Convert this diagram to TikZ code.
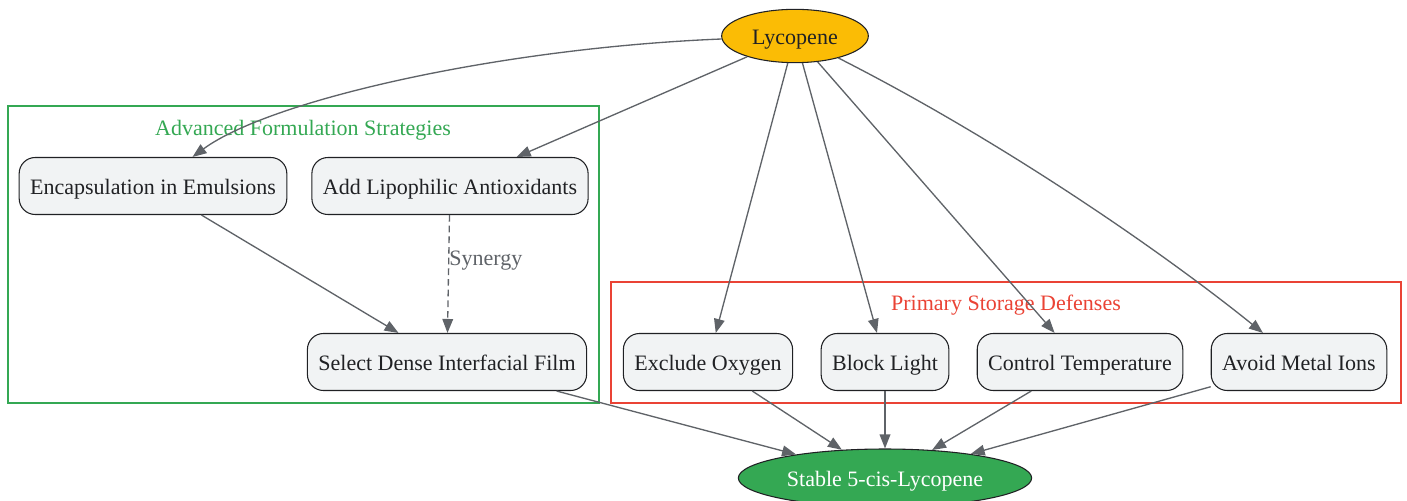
\documentclass[tikz,border=0pt]{standalone}
\usepackage{fontspec}
\setmainfont{Liberation Serif}
\usetikzlibrary{arrows.meta,shapes.geometric}
\definecolor{edgegray}{HTML}{5F6368}
\definecolor{txtdark}{HTML}{202124}
\definecolor{boxfill}{HTML}{F1F3F4}
\definecolor{lycyellow}{HTML}{FBBC05}
\definecolor{okgreen}{HTML}{34A853}
\definecolor{warnred}{HTML}{EA4335}
\begin{document}
\begin{tikzpicture}[x=0.75pt,y=0.75pt,yscale=-1,
  font=\fontsize{16.5}{19}\selectfont,
  every node/.style={text height=16pt,text depth=3.5pt},
  stepbox/.style={draw=txtdark,fill=boxfill,text=txtdark,rounded corners=12pt,
    minimum height=42.75pt,inner xsep=8.25pt,line width=0.8pt},
  endnode/.style={ellipse,draw=txtdark,line width=0.8pt,inner sep=0pt},
  link/.style={draw=edgegray,line width=1pt,-{Triangle[length=10.5pt,width=8pt]}}]
\useasboundingbox (0,0) rectangle (1407,500);

%Clusters
\draw[okgreen,line width=0.8pt] (8,106) rectangle (599,403);
\draw[warnred,line width=0.8pt] (611,282) rectangle (1401,403);
\node[text=okgreen] (advlbl) at (303,127) {Advanced Formulation Strategies};
\node[text=warnred] (primlbl) at (1006,302) {Primary Storage Defenses};

% Ellipse Nodes
\node[endnode,fill=lycyellow,text=txtdark,minimum width=110pt,minimum height=40pt] (lyc) at (795,36) {Lycopene};
\node[endnode,fill=okgreen,text=white,minimum width=220pt,minimum height=43.5pt] (stable) at (885,478) {Stable 5-cis-Lycopene};

% Box Nodes
\node[stepbox] (encap) at (153,186) {Encapsulation in Emulsions};
\node[stepbox] (antiox) at (450,186) {Add Lipophilic Antioxidants};
\node[stepbox] (film) at (447,362) {Select Dense Interfacial Film};
\node[stepbox] (oxygen) at (708,362) {Exclude Oxygen};
\node[stepbox] (light) at (885,362) {Block Light};
\node[stepbox] (temp) at (1080,362) {Control Temperature};
\node[stepbox] (metal) at (1299,362) {Avoid Metal Ions};

% Edges
\draw[link] (lyc) .. controls (500,48) and (270,100) .. (encap);
\draw[link] (lyc) -- (antiox);
\draw[link] (lyc) -- (oxygen);
\draw[link] (lyc) -- (light);
\draw[link] (lyc) -- (temp);
\draw[link] (lyc) .. controls (1000,140) and (1160,250) .. (metal);
\draw[link] (encap) -- (film);
\draw[link,dash pattern=on 5pt off 3pt] (antiox) -- node[pos=0.36,right,inner sep=0pt,text=edgegray] (synlbl) {Synergy} (film);
\draw[link] (film) -- (stable);
\draw[link] (oxygen) -- (stable);
\draw[link] (light) -- (stable);
\draw[link] (temp) -- (stable);
\draw[link] (metal) -- (stable);

\end{tikzpicture}
\end{document}
